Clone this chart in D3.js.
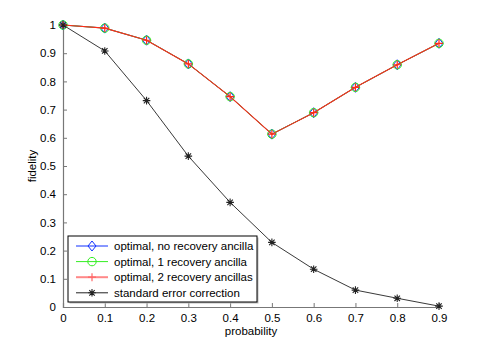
<!DOCTYPE html>
<html>
<head>
<meta charset="utf-8">
<script src="https://cdn.jsdelivr.net/npm/d3@7"></script>
<style>
  body { margin: 0; background: #fff; }
  svg { display: block; font-family: "Liberation Sans", Arial, sans-serif; }
</style>
</head>
<body>
<div id="chart"></div>
<script>
// Data
const probability  = [0, 0.1, 0.2, 0.3, 0.4, 0.5, 0.6, 0.7, 0.8, 0.9];
const optimalNone  = [1, 0.989, 0.946, 0.862, 0.746, 0.613, 0.689, 0.779, 0.859, 0.935];
const optimalOne   = [1, 0.989, 0.946, 0.862, 0.746, 0.613, 0.689, 0.779, 0.859, 0.935];
const optimalTwo   = [1, 0.989, 0.946, 0.862, 0.746, 0.613, 0.689, 0.779, 0.859, 0.935];
const standardEC   = [1, 0.908, 0.732, 0.535, 0.371, 0.229, 0.134, 0.060, 0.031, 0.003];
const xTicks       = [0, 0.1, 0.2, 0.3, 0.4, 0.5, 0.6, 0.7, 0.8, 0.9];
const yTicks       = [0, 0.1, 0.2, 0.3, 0.4, 0.5, 0.6, 0.7, 0.8, 0.9, 1];
const seriesNames  = ['optimal, no recovery ancilla', 'optimal, 1 recovery ancilla',
                      'optimal, 2 recovery ancillas', 'standard error correction'];

const width  = 485;
const height = 346;
const plot   = { left: 63, right: 439, top: 25, bottom: 307 };

const svg = d3.select('#chart')
  .append('svg')
    .attr('width', width)
    .attr('height', height);

const x = d3.scaleLinear().domain([0, 0.9]).range([plot.left, plot.right]);
const y = d3.scaleLinear().domain([0, 1]).range([plot.bottom, plot.top]);

// Axes (ticks pointing inward, no box)
const xAxis = svg.append('g')
  .attr('transform', `translate(0,${plot.bottom})`)
  .call(d3.axisBottom(x).tickValues(xTicks).tickSize(-4).tickPadding(7)
    .tickFormat(d => d === 0 ? '0' : d3.format('.1f')(d)));
const yAxis = svg.append('g')
  .attr('transform', `translate(${plot.left},0)`)
  .call(d3.axisLeft(y).tickValues(yTicks).tickSize(-4).tickPadding(7)
    .tickFormat(d => (d === 0 || d === 1) ? String(d) : d3.format('.1f')(d)));

[xAxis, yAxis].forEach(g => {
  g.select('.domain').attr('stroke', '#777').attr('stroke-width', 1.2);
  g.selectAll('.tick line').attr('stroke', '#777');
  g.selectAll('.tick text').attr('fill', '#000').attr('font-size', 11.5)
    .attr('font-family', '"Liberation Sans", Arial, sans-serif');
});

// Axis labels
svg.append('text')
  .attr('x', (plot.left + plot.right) / 2)
  .attr('y', 335)
  .attr('text-anchor', 'middle')
  .attr('font-size', 11.5)
  .text('probability');

svg.append('text')
  .attr('transform', `translate(36,${(plot.top + plot.bottom) / 2}) rotate(-90)`)
  .attr('text-anchor', 'middle')
  .attr('font-size', 11.5)
  .text('fidelity');

// Marker drawers
function drawMarker(g, type, color, cx, cy) {
  if (type === 'diamond') {
    g.append('path')
      .attr('d', `M${cx},${cy - 5}L${cx + 4},${cy}L${cx},${cy + 5}L${cx - 4},${cy}Z`)
      .attr('fill', 'none').attr('stroke', color).attr('stroke-width', 1);
  } else if (type === 'circle') {
    g.append('circle').attr('cx', cx).attr('cy', cy).attr('r', 4.2)
      .attr('fill', 'none').attr('stroke', color).attr('stroke-width', 1);
  } else if (type === 'plus') {
    g.append('path')
      .attr('d', `M${cx - 4},${cy}H${cx + 4}M${cx},${cy - 4}V${cy + 4}`)
      .attr('stroke', color).attr('stroke-width', 1.2);
  } else if (type === 'star') {
    const r = 3.8, d = r * 0.72;
    g.append('path')
      .attr('d', `M${cx - r},${cy}H${cx + r}M${cx},${cy - r}V${cy + r}` +
                 `M${cx - d},${cy - d}L${cx + d},${cy + d}M${cx - d},${cy + d}L${cx + d},${cy - d}`)
      .attr('stroke', color).attr('stroke-width', 1.1);
  }
}

const series = [
  { name: seriesNames[0], values: optimalNone, color: '#1030ff', marker: 'diamond', lw: 1 },
  { name: seriesNames[1], values: optimalOne,  color: '#33ee22', marker: 'circle',  lw: 1 },
  { name: seriesNames[2], values: optimalTwo,  color: '#ff2a1a', marker: 'plus',    lw: 1.1 },
  { name: seriesNames[3], values: standardEC,  color: '#222',    marker: 'star',    lw: 0.9 }
];

const line = d3.line().x(d => x(d[0])).y(d => y(d[1]));

series.forEach(s => {
  const pts = probability.map((p, i) => [p, s.values[i]]);
  const g = svg.append('g');
  g.append('path')
    .attr('d', line(pts))
    .attr('fill', 'none')
    .attr('stroke', s.color)
    .attr('stroke-width', s.lw);
  pts.forEach(p => drawMarker(g, s.marker, s.color, x(p[0]), y(p[1])));
});

// Legend
const lg = { left: 68, top: 236, width: 189, height: 66 };
svg.append('rect')
  .attr('x', lg.left + 1.5).attr('y', lg.top + 1.5)
  .attr('width', lg.width).attr('height', lg.height)
  .attr('fill', '#bbb');
svg.append('rect')
  .attr('x', lg.left).attr('y', lg.top)
  .attr('width', lg.width).attr('height', lg.height)
  .attr('fill', '#fff').attr('stroke', '#000').attr('stroke-width', 1);

series.forEach((s, i) => {
  const ly = 246 + i * 15.6;
  const g = svg.append('g');
  g.append('line')
    .attr('x1', 76).attr('x2', 108).attr('y1', ly).attr('y2', ly)
    .attr('stroke', i === 2 ? '#ff8888' : s.color)
    .attr('stroke-width', i === 2 ? 2 : 1);
  drawMarker(g, s.marker, i === 2 ? '#ff6666' : s.color, 92, ly);
  g.append('text')
    .attr('x', 114).attr('y', ly + 4)
    .attr('font-size', 11.5)
    .text(s.name);
});
</script>
</body>
</html>
